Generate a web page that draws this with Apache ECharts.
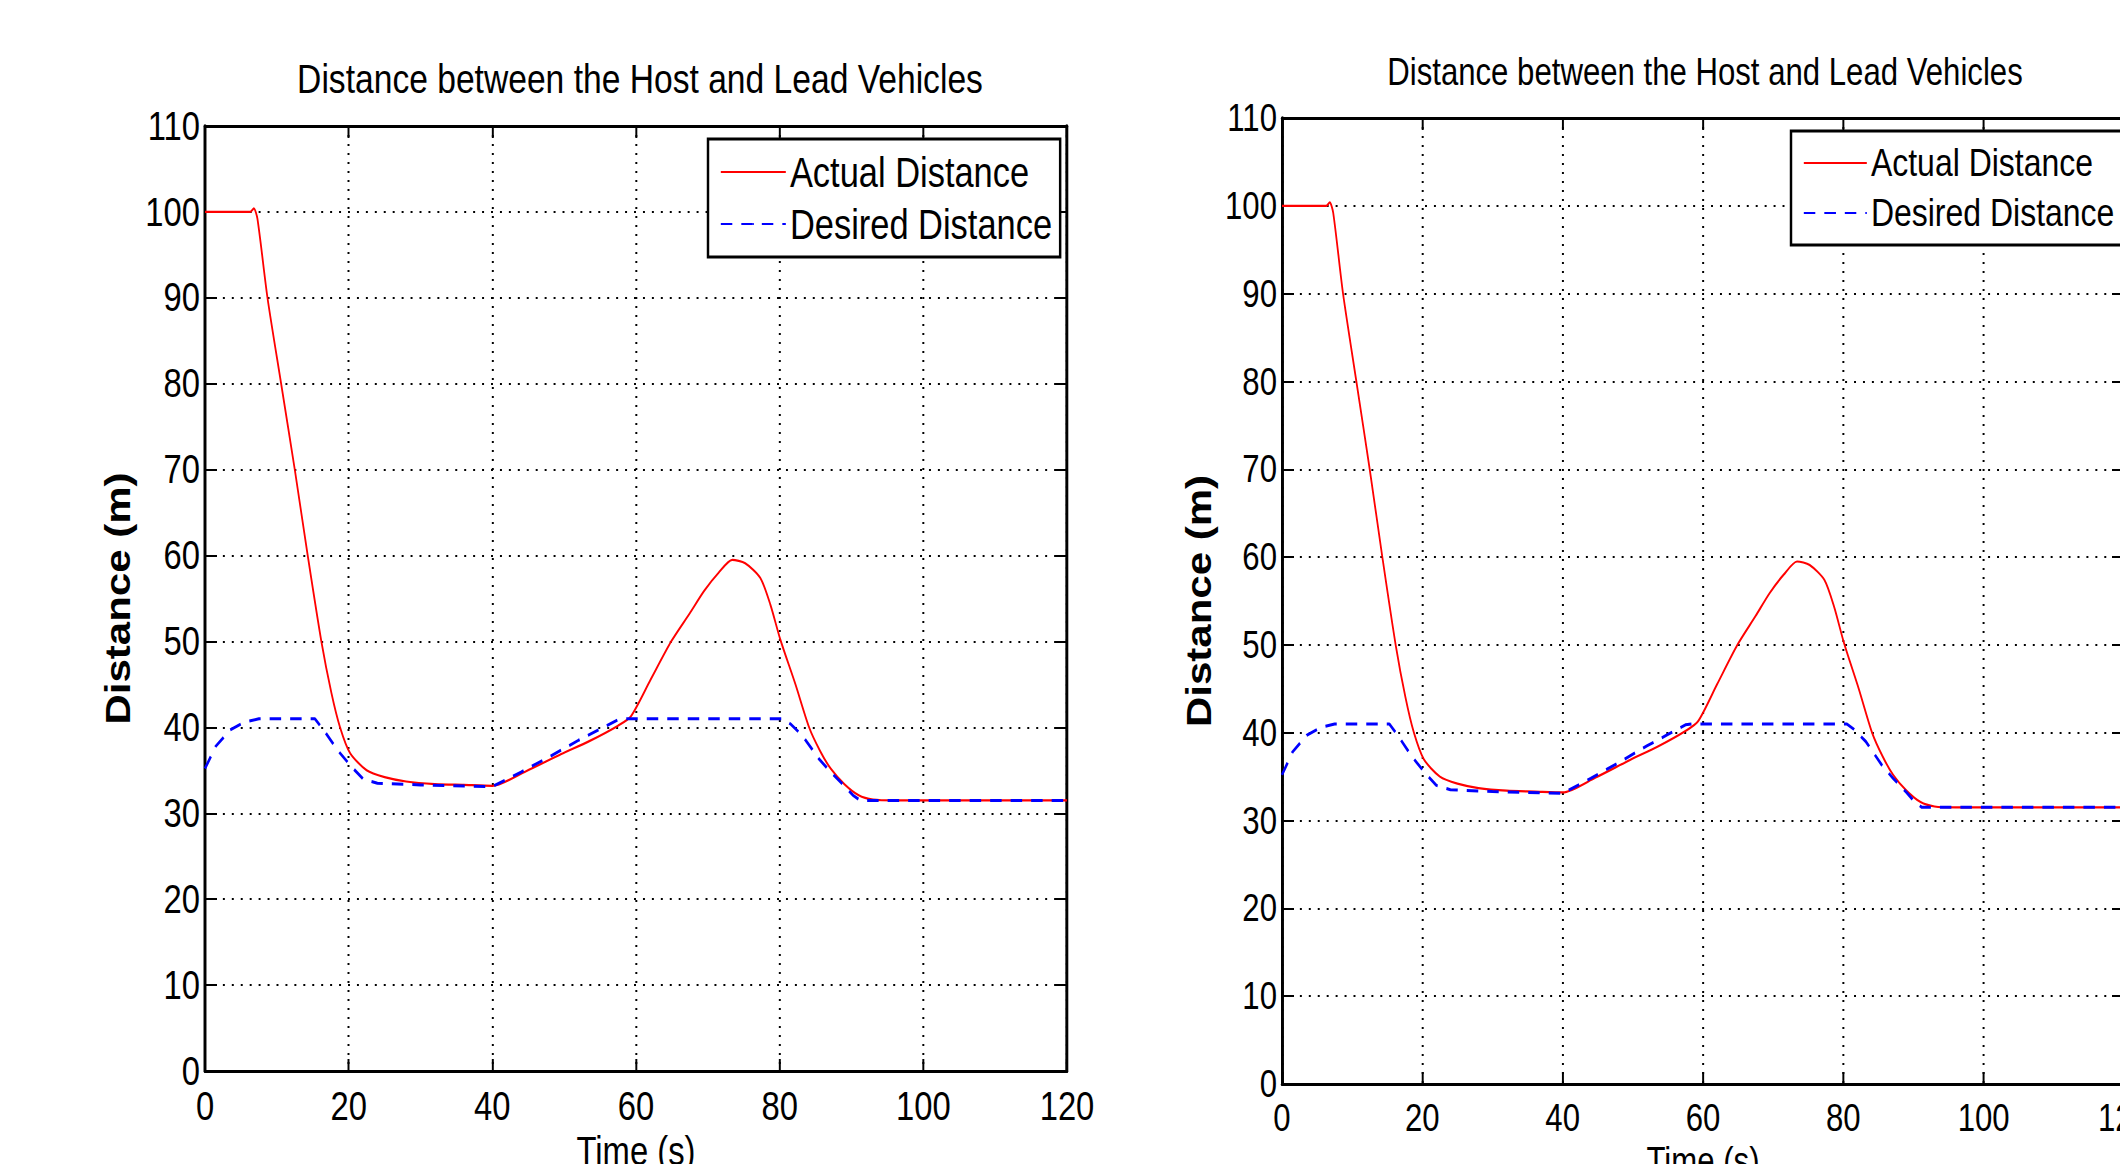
<!DOCTYPE html>
<html>
<head>
<meta charset="utf-8">
<title>Distance between the Host and Lead Vehicles</title>
<script src="https://cdn.jsdelivr.net/npm/echarts@6/dist/echarts.min.js"></script>
<style>
    html, body { margin: 0; padding: 0; background: #fff; overflow: hidden; }
    /* the source figure is squeezed sideways, narrow text included, so the chart is drawn wider and squeezed back */
    #container { width: 2586px; height: 1164px; transform: scaleX(0.82); transform-origin: 0 0; }
</style>
</head>
<body>
<div id="container"></div>
<script>
// axis ticks
var xTicks = [0, 20, 40, 60, 80, 100, 120];
var yTicks = [0, 10, 20, 30, 40, 50, 60, 70, 80, 90, 100, 110];

// actual distance (red solid)
var actualTime = [0, 6.3, 6.8, 7.3, 8.7, 10.6, 12.5, 14.3, 16.2, 17.6, 18.8, 20.2, 22.5, 25, 28, 32, 36, 40,
    44.7, 49.6, 53.5, 57.5, 59.3, 62, 64.9, 67.5, 69.5, 71.5, 73.4, 75.2, 77.3, 78.7, 80.1, 82.2, 84.1,
    85.6, 87.1, 89, 91, 93, 96, 100, 110, 120];
var actualDist = [100, 100, 100.4, 99.2, 90, 80, 70, 60, 50, 44, 40, 37, 35, 34.2, 33.7, 33.4, 33.3, 33.2,
    34.9, 36.9, 38.4, 40.2, 41.3, 45.5, 50, 53.3, 55.9, 58, 59.5, 59.1, 57.4, 54.3, 50.2, 45, 40,
    37.3, 35.2, 33.4, 32.1, 31.6, 31.5, 31.5, 31.5, 31.5];

// desired distance (blue dashed)
var desiredTime = [0, 1.5, 3.5, 5.5, 7.5, 15.3, 16.5, 18.5, 20.3, 22, 24, 30, 40, 44, 48, 52, 55, 57.5, 58.5,
    80.5, 81.5, 83.2, 85.5, 87.1, 89, 90.2, 91.2, 95, 100, 120];
var desiredDist = [35.2, 37.8, 39.7, 40.6, 41, 41, 39.7, 37.3, 35.5, 34, 33.5, 33.3, 33.1, 34.8, 36.6, 38.5, 39.8, 40.9, 41,
    41, 40.4, 39, 36.3, 34.8, 33.2, 32.1, 31.5, 31.5, 31.5, 31.5];

var seriesNames = ['Actual Distance', 'Desired Distance'];
var titleText = 'Distance between the Host and Lead Vehicles';

var squeeze = 0.82;
var font = "'Liberation Sans', Arial, sans-serif";

// final (on screen) x position -> x inside the wider, squeezed chart
function sx(v) { return v / squeeze; }

function pairs(xs, ys) {
    return xs.map(function (x, i) { return [x, ys[i]]; });
}

// the two copies of the figure, side by side (screen pixels)
var panels = [
    { left: 205, top: 126, width: 862, height: 945, font: 40, titleX: 640, titleY: 58, titleSize: 41,
      legendX: 708, legendY: 139, legendFont: 42, legendIcon: 65, xMargin: 15, xNameGap: 58, yNameGap: 70 },
    { left: 1282, top: 118, width: 842, height: 966, font: 38, titleX: 1705, titleY: 53, titleSize: 38,
      legendX: 1791, legendY: 131, legendFont: 39, legendIcon: 63, xMargin: 15, xNameGap: 56, yNameGap: 66 }
];

var option = {
    animation: false,
    backgroundColor: '#fff',
    title: [], legend: [], grid: [], xAxis: [], yAxis: [], series: []
};

var hLine = { show: true, onZero: false, lineStyle: { color: '#000', width: 3 } };
var vLine = { show: true, onZero: false, lineStyle: { color: '#000', width: 3.6 } };
var xTick = { show: true, inside: true, length: 12, lineStyle: { color: '#000', width: 2.4 } };
var yTick = { show: true, inside: true, length: sx(12), lineStyle: { color: '#000', width: 2 } };
var xGrid = { show: true, lineStyle: { color: '#000', width: 2.4, type: [2, 7] } };
var yGrid = { show: true, lineStyle: { color: '#000', width: 2, type: [2.4, 8.5] } };

panels.forEach(function (p, i) {
    option.title.push({
        text: titleText,
        left: sx(p.titleX), top: p.titleY, textAlign: 'center', padding: 0,
        textStyle: { fontFamily: font, fontSize: p.titleSize, fontWeight: 'normal', color: '#000' }
    });
    // outerBoundsMode none: keep the plot box where it is, even if labels fall off the page
    option.grid.push({ left: sx(p.left), top: p.top, width: sx(p.width), height: p.height, outerBoundsMode: 'none' });

    var xBase = { type: 'value', gridIndex: i, min: xTicks[0], max: xTicks[xTicks.length - 1], interval: 20 };
    var yBase = { type: 'value', gridIndex: i, min: yTicks[0], max: yTicks[yTicks.length - 1], interval: 10 };

    option.xAxis.push(Object.assign({}, xBase, {
        position: 'bottom',
        axisLine: hLine, axisTick: xTick, splitLine: xGrid,
        axisLabel: { margin: p.xMargin, fontFamily: font, fontSize: p.font, color: '#000' },
        name: 'Time (s)', nameLocation: 'middle', nameGap: p.xNameGap,
        nameTextStyle: { fontFamily: font, fontSize: p.font, color: '#000' }
    }));
    option.xAxis.push(Object.assign({}, xBase, {
        position: 'top',
        axisLine: hLine, axisTick: xTick, splitLine: { show: false }, axisLabel: { show: false }
    }));
    option.yAxis.push(Object.assign({}, yBase, {
        position: 'left',
        axisLine: vLine, axisTick: yTick, splitLine: yGrid,
        axisLabel: { margin: sx(5), fontFamily: font, fontSize: p.font, color: '#000' },
        name: 'Distance (m)', nameLocation: 'middle', nameGap: sx(p.yNameGap),
        nameTextStyle: { fontFamily: font, fontWeight: 'bold', fontSize: 42, color: '#000' }
    }));
    option.yAxis.push(Object.assign({}, yBase, {
        position: 'right',
        axisLine: vLine, axisTick: yTick, splitLine: { show: false }, axisLabel: { show: false }
    }));

    option.series.push({
        name: seriesNames[0], type: 'line', xAxisIndex: 2 * i, yAxisIndex: 2 * i,
        data: pairs(actualTime, actualDist), symbol: 'none', smooth: 0.25,
        lineStyle: { color: '#ff0000', width: 2.2 }, itemStyle: { color: '#ff0000' }
    });
    option.series.push({
        name: seriesNames[1], type: 'line', xAxisIndex: 2 * i, yAxisIndex: 2 * i,
        data: pairs(desiredTime, desiredDist), symbol: 'none',
        lineStyle: { color: '#0000ff', width: 3, type: [14, 11] }, itemStyle: { color: '#0000ff' }
    });

    // itemHeight kept tiny so the legend's marker dot disappears under the line
    option.legend.push({
        orient: 'vertical', left: sx(p.legendX), top: p.legendY, data: seriesNames,
        itemWidth: sx(p.legendIcon), itemHeight: 2, itemGap: 10, itemTextGap: sx(5),
        padding: [12, sx(8), 12, sx(12)], selectedMode: false,
        borderColor: '#000', borderWidth: 3, backgroundColor: '#fff',
        textStyle: { fontFamily: font, fontSize: p.legendFont, lineHeight: 40, color: '#000' }
    });
});

var myChart = echarts.init(document.getElementById('container'), null, { renderer: 'svg' });
myChart.setOption(option);
</script>
</body>
</html>
